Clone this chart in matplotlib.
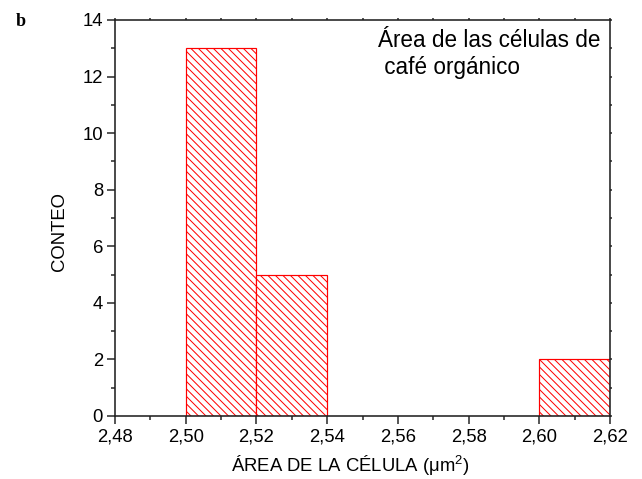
import matplotlib
matplotlib.use("Agg")
import matplotlib.pyplot as plt
from matplotlib.ticker import MultipleLocator, FuncFormatter

# Histogram of cell area (organic coffee)
bin_left = [2.50, 2.52, 2.60]
counts = [13, 5, 2]
bin_width = 0.02

x_ticks = [2.48, 2.50, 2.52, 2.54, 2.56, 2.58, 2.60, 2.62]
y_ticks = [0, 2, 4, 6, 8, 10, 12, 14]

DPI = 90
BACKSLASH = chr(92)
plt.rcParams['font.family'] = ['Liberation Sans', 'DejaVu Sans']
plt.rcParams['mathtext.fontset'] = 'custom'
plt.rcParams['mathtext.rm'] = 'Liberation Sans'
plt.rcParams['hatch.color'] = '#ff0000'
plt.rcParams['hatch.linewidth'] = 0.8

def px(v):
    # pixel size -> points at the figure dpi
    return v * 72.0 / DPI

fig = plt.figure(figsize=(642 / DPI, 479 / DPI), dpi=DPI)
ax = fig.add_axes([115 / 642, 1 - 416 / 479, 495 / 642, 396 / 479])

ax.bar(bin_left, counts, width=bin_width, align='edge', facecolor='white',
       edgecolor='#ff0000', linewidth=px(1.2), hatch=BACKSLASH * 4)

ax.set_xlim(x_ticks[0], x_ticks[-1])
ax.set_ylim(y_ticks[0], y_ticks[-1])
ax.set_xticks(x_ticks)
ax.set_yticks(y_ticks)
ax.xaxis.set_minor_locator(MultipleLocator(0.01))
ax.yaxis.set_minor_locator(MultipleLocator(1))
ax.xaxis.set_major_formatter(FuncFormatter(lambda v, p: f"{v:.2f}".replace('.', ',')))

fs = px(18.5)
ax.tick_params(axis='both', which='major', direction='out', length=px(8),
               width=px(1.5), labelsize=fs, pad=px(4), color='#222222')
ax.tick_params(axis='both', which='minor', direction='out', length=px(4),
               width=px(1.5), color='#222222')
ax.tick_params(axis='both', which='both', top=True, right=True)
# inner ticks on top/right are drawn short
for t in ax.xaxis.get_major_ticks() + ax.xaxis.get_minor_ticks():
    t.tick2line.set_markersize(px(2))
for t in ax.yaxis.get_major_ticks() + ax.yaxis.get_minor_ticks():
    t.tick2line.set_markersize(px(2))

for s in ax.spines.values():
    s.set_linewidth(px(1.6))
    s.set_color('#222222')

ax.set_ylabel('CONTEO', fontsize=fs)
ax.yaxis.set_label_coords(-0.095, 0.467)
ax.set_xlabel('ÁREA DE LA CÉLULA (μm$^2$)', fontsize=fs)
ax.xaxis.set_label_coords((350 - 115) / 495, -0.095)

ax.text(378 / 642, 1 - 29 / 479, 'Área de las células de\n café orgánico',
        transform=fig.transFigure, fontsize=px(22.5), ha='left', va='top',
        linespacing=1.2)

fig.text(16 / 642, 1 - 26 / 479, 'b', fontsize=px(18), fontweight='bold',
         family='Liberation Serif', ha='left', va='baseline')

fig.savefig('out.png', dpi=DPI)
